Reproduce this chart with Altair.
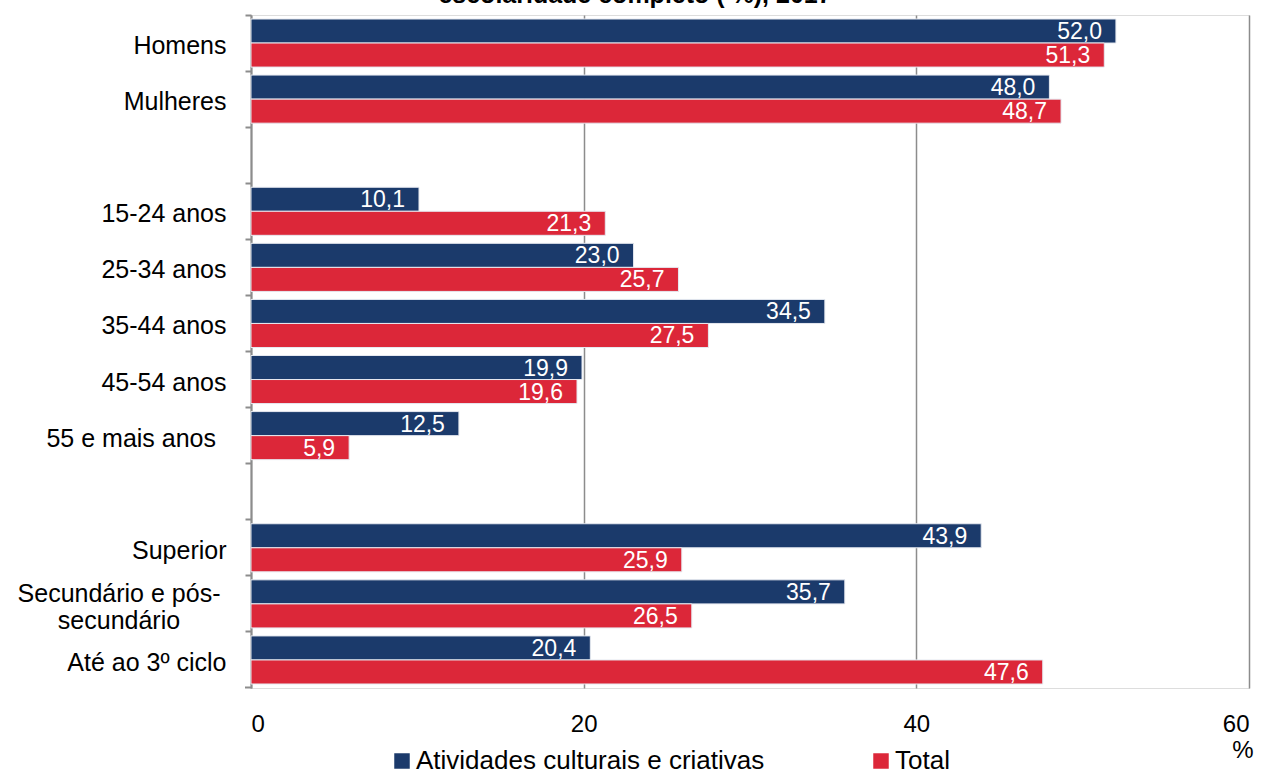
import altair as alt
import pandas as pd

categories = ["Homens", "Mulheres", "gap1", "15-24 anos", "25-34 anos", "35-44 anos",
              "45-54 anos", "55 e mais anos", "gap2", "Superior",
              "Secundário e pós-secundário", "Até ao 3º ciclo"]
cultural = [52.0, 48.0, None, 10.1, 23.0, 34.5, 19.9, 12.5, None, 43.9, 35.7, 20.4]
total = [51.3, 48.7, None, 21.3, 25.7, 27.5, 19.6, 5.9, None, 25.9, 26.5, 47.6]
series = ["Atividades culturais e criativas", "Total"]
colors = ["#1b3a6b", "#dc2739"]
x_ticks = [0, 20, 40, 60]
title_text = "escolaridade completo ( %), 2017"
wrapped_label = "Secundário e pós-\nsecundário"

rows = []
for c, a, t in zip(categories, cultural, total):
    if a is not None:
        rows.append({"cat": c, "serie": series[0], "v": a})
    if t is not None:
        rows.append({"cat": c, "serie": series[1], "v": t})
df = pd.DataFrame(rows)

W, H = 998, 673
FONT = "Liberation Sans"
GRID = "#8c8c8c"

yscale = alt.Scale(domain=categories, paddingInner=0, paddingOuter=0)
y_enc = alt.Y("cat:N", scale=yscale, title=None,
              axis=alt.Axis(labelFontSize=25, labelFont=FONT, labelColor="black",
                            labelPadding=19, tickSize=6, tickColor=GRID, tickWidth=2,
                            domainColor=GRID, domainWidth=2, bandPosition=0,
                            labelOffset=3,
                            labelExpr="(datum.label == 'gap1' || datum.label == 'gap2' || datum.label == 'Secundário e pós-secundário' || datum.label == '55 e mais anos') ? '' : datum.label"))
x_enc = alt.X("v:Q", scale=alt.Scale(domain=[0, 60], nice=False), title=None,
              axis=alt.Axis(values=x_ticks, grid=True, gridColor=GRID, gridWidth=1.5,
                            domain=False, ticks=False, labelFontSize=24, labelFont=FONT,
                            labelColor="black", labelPadding=24, labelAngle=0))
yoff = alt.YOffset("serie:N", sort=series, scale=alt.Scale(paddingOuter=0.1667, paddingInner=0))

base = alt.Chart(df)
bars = base.mark_bar(stroke="#e6e9f0", strokeWidth=1).encode(
    y=y_enc, x=x_enc, yOffset=yoff,
    color=alt.Color("serie:N", sort=series,
                    scale=alt.Scale(domain=series, range=colors),
                    legend=alt.Legend(title=None, orient="none", legendX=138, legendY=733,
                                      direction="horizontal", columns=2, columnPadding=103,
                                      symbolType="square", symbolSize=240, symbolStrokeWidth=0,
                                      labelFontSize=26, labelFont=FONT, labelColor="black",
                                      labelOffset=1, labelLimit=600)))
values = base.transform_calculate(
    lab="replace(format(datum.v, '.1f'), '.', ',')"
).mark_text(align="right", baseline="middle", dx=-14, dy=1, color="white",
            fontSize=23, font=FONT).encode(
    y=alt.Y("cat:N", scale=yscale), x=alt.X("v:Q"), yOffset=yoff, text="lab:N")

wrap = alt.Chart(pd.DataFrame({"cat": ["Secundário e pós-secundário"], "t": [wrapped_label]})).mark_text(
    align="center", baseline="middle", lineBreak="\n", fontSize=25, font=FONT,
    color="black", lineHeight=27, dy=-10).encode(
    y=alt.Y("cat:N", scale=yscale), x=alt.value(-132), text="t:N")

age55 = alt.Chart(pd.DataFrame({"cat": ["55 e mais anos"]})).mark_text(
    align="right", baseline="middle", fontSize=25, font=FONT, color="black", dy=3).encode(
    y=alt.Y("cat:N", scale=yscale), x=alt.value(-35), text="cat:N")

title = alt.Chart(pd.DataFrame({"t": [title_text]})).mark_text(
    align="center", baseline="alphabetic", fontSize=25, fontWeight="bold",
    font=FONT, color="black").encode(x=alt.value(384), y=alt.value(-12), text="t:N")

pct = alt.Chart(pd.DataFrame({"t": ["%"], "v": [60]})).mark_text(
    align="center", baseline="middle", fontSize=24, font=FONT, color="black", dx=-6).encode(
    x=alt.X("v:Q"), y=alt.value(736), text="t:N")

endtick = alt.Chart(pd.DataFrame({"a": [0]})).mark_rule(color=GRID, strokeWidth=2).encode(
    x=alt.value(-6), x2=alt.value(0), y=alt.value(H - 0.5))

chart = alt.layer(bars, values, wrap, age55, title, pct, endtick).properties(
    width=W, height=H,
    autosize=alt.AutoSizeParams(type="none"),
    padding={"left": 251, "top": 15, "right": 17, "bottom": 84},
).configure_view(stroke=None).configure(background="white")

chart.save("out.html", embed_options={"renderer": "svg", "actions": False})
